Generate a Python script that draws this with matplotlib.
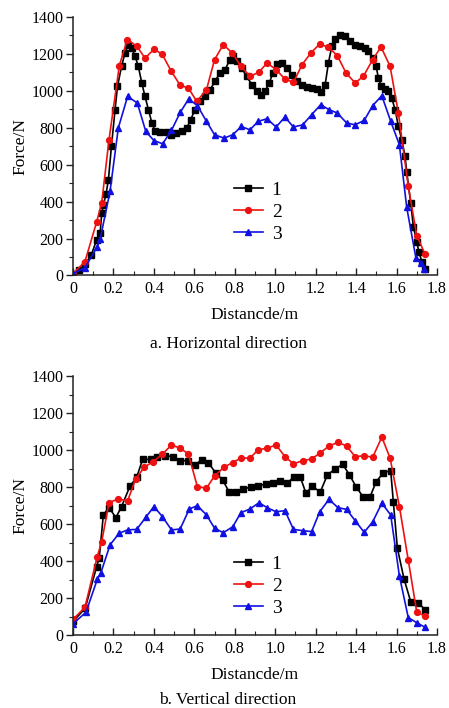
import numpy as np
import matplotlib.pyplot as plt
from matplotlib.ticker import MultipleLocator

plt.rcParams['font.family'] = ['Liberation Serif', 'DejaVu Serif']

# ---- a. horizontal direction ----
h1_x = [0, 0.03, 0.06, 0.09, 0.117, 0.134, 0.142, 0.15, 0.163, 0.175, 0.19, 0.208, 0.22, 0.24,
        0.257, 0.273, 0.29, 0.307, 0.323, 0.34, 0.356, 0.373, 0.39, 0.405, 0.43, 0.463, 0.487,
        0.51, 0.537, 0.562, 0.582, 0.603, 0.628, 0.653, 0.678, 0.702, 0.727, 0.752, 0.776, 0.792,
        0.812, 0.834, 0.858, 0.884, 0.908, 0.928, 0.95, 0.971, 0.988, 1.007, 1.032, 1.057, 1.082,
        1.106, 1.131, 1.156, 1.181, 1.205, 1.225, 1.247, 1.263, 1.28, 1.297, 1.32, 1.345, 1.37,
        1.395, 1.42, 1.444, 1.46, 1.485, 1.499, 1.51, 1.523, 1.543, 1.56, 1.576, 1.593, 1.609,
        1.626, 1.642, 1.65, 1.67, 1.683, 1.70, 1.71, 1.725, 1.741]
h1_y = [10, 30, 60, 110, 193, 229, 337, 380, 440, 518, 699, 898, 1024, 1133,
        1205, 1250, 1233, 1187, 1133, 1043, 970, 898, 826, 784, 775, 775, 762,
        773, 780, 798, 844, 898, 943, 970, 1006, 1052, 1097, 1115, 1169, 1191,
        1160, 1124, 1079, 1034, 997, 976, 997, 1043, 1097, 1146, 1151, 1124, 1088,
        1052, 1034, 1021, 1016, 1010, 992, 1034, 1151, 1242, 1282, 1305, 1296, 1269,
        1250, 1242, 1233, 1215, 1178, 1133, 1070, 1028, 1010, 997, 961, 898, 807,
        735, 645, 563, 392, 265, 183, 129, 75, 34]

h2_x = [0, 0.059, 0.117, 0.142, 0.178, 0.229, 0.269, 0.315, 0.356, 0.40, 0.44, 0.486, 0.53,
        0.57, 0.612, 0.66, 0.70, 0.743, 0.788, 0.83, 0.875, 0.918, 0.96, 1.004, 1.048, 1.09,
        1.133, 1.176, 1.22, 1.263, 1.307, 1.35, 1.395, 1.436, 1.482, 1.523, 1.568, 1.609,
        1.658, 1.70, 1.741]
h2_y = [10, 75, 290, 395, 735, 1137, 1278, 1242, 1178, 1224, 1200, 1106, 1030,
        1016, 943, 1006, 1169, 1250, 1205, 1133, 1079, 1100, 1151, 1115, 1064, 1046,
        1142, 1205, 1254, 1236, 1191, 1097, 1043, 1079, 1169, 1238, 1133, 880,
        482, 216, 115]

h3_x = [0, 0.059, 0.12, 0.134, 0.183, 0.224, 0.27, 0.318, 0.36, 0.40, 0.443, 0.487, 0.53,
        0.572, 0.615, 0.66, 0.70, 0.747, 0.79, 0.832, 0.875, 0.916, 0.96, 1.004, 1.048, 1.09,
        1.136, 1.18, 1.225, 1.266, 1.307, 1.353, 1.395, 1.44, 1.482, 1.527, 1.571, 1.614,
        1.65, 1.696, 1.72, 1.737]
h3_y = [10, 42, 156, 196, 455, 799, 970, 934, 780, 731, 713, 786, 883,
        956, 920, 835, 762, 744, 762, 807, 789, 835, 849, 804, 858, 804,
        816, 871, 925, 898, 880, 826, 816, 840, 920, 974, 835, 708,
        370, 93, 70, 34]

# ---- b. vertical direction ----
v1_x = [0, 0.06, 0.117, 0.13, 0.15, 0.178, 0.212, 0.24, 0.282, 0.315, 0.344, 0.384, 0.414,
        0.455, 0.493, 0.529, 0.567, 0.603, 0.636, 0.669, 0.707, 0.74, 0.773, 0.806, 0.842,
        0.879, 0.917, 0.953, 0.988, 1.024, 1.06, 1.093, 1.123, 1.152, 1.184, 1.222, 1.258,
        1.296, 1.334, 1.367, 1.40, 1.436, 1.469, 1.499, 1.535, 1.571, 1.584, 1.604, 1.637,
        1.67, 1.708, 1.741]
v1_y = [75, 145, 371, 420, 650, 690, 635, 695, 806, 853, 950, 950, 965,
        970, 965, 943, 943, 920, 947, 932, 875, 839, 772, 775, 788,
        802, 806, 817, 824, 833, 821, 857, 857, 767, 806, 772, 866,
        898, 923, 866, 802, 745, 748, 829, 878, 889, 721, 470, 304,
        181, 176, 137]

v2_x = [0, 0.059, 0.12, 0.142, 0.178, 0.224, 0.27, 0.31, 0.353, 0.397, 0.442, 0.487, 0.53,
        0.57, 0.615, 0.66, 0.70, 0.747, 0.79, 0.83, 0.875, 0.916, 0.96, 1.004, 1.048, 1.09,
        1.136, 1.18, 1.22, 1.266, 1.31, 1.353, 1.395, 1.44, 1.482, 1.527, 1.568, 1.614,
        1.658, 1.70, 1.741]
v2_y = [86, 151, 425, 506, 717, 736, 726, 845, 908, 938, 978, 1028, 1010,
        980, 803, 794, 861, 908, 933, 957, 957, 1002, 1010, 1028, 965, 926,
        943, 952, 983, 1022, 1042, 1022, 965, 969, 962, 1070, 957, 695,
        405, 124, 104]

v3_x = [0, 0.064, 0.12, 0.138, 0.183, 0.228, 0.27, 0.315, 0.36, 0.40, 0.442, 0.487, 0.53,
        0.575, 0.615, 0.66, 0.70, 0.743, 0.79, 0.83, 0.875, 0.92, 0.96, 1.004, 1.048, 1.09,
        1.136, 1.18, 1.22, 1.266, 1.31, 1.353, 1.395, 1.44, 1.482, 1.527, 1.571, 1.614,
        1.658, 1.70, 1.741]
v3_y = [63, 124, 302, 338, 488, 551, 569, 572, 637, 695, 641, 569, 574,
        682, 700, 650, 578, 554, 586, 662, 682, 716, 689, 667, 673, 572,
        565, 560, 667, 734, 689, 680, 619, 556, 613, 713, 650, 320,
        95, 68, 43]

labels = ['1', '2', '3']
colors = ['black', '#ee1111', '#1010e0']
markers = ['s', 'o', '^']
msizes = [4.0, 4.2, 4.5]

fig = plt.figure(figsize=(4.49, 7.08), dpi=100)
ax_top = fig.add_axes([0.1626, 0.6109, 0.8107, 0.3651])
ax_bot = fig.add_axes([0.1626, 0.1027, 0.8107, 0.3662])


def draw(ax, series, legend_anchor):
    for (xs, ys), lab, c, m, ms in zip(series, labels, colors, markers, msizes):
        ax.plot(xs, ys, color=c, marker=m, markersize=ms, linewidth=1.2, label=lab)
    ax.set_xlim(0, 1.8)
    ax.set_ylim(0, 1400)
    ax.xaxis.set_major_locator(MultipleLocator(0.2))
    ax.xaxis.set_minor_locator(MultipleLocator(0.1))
    ax.yaxis.set_major_locator(MultipleLocator(200))
    ax.yaxis.set_minor_locator(MultipleLocator(100))
    ax.set_xticklabels([f'{v:.1f}' if v > 0 else '0' for v in ax.get_xticks()])
    ax.spines['top'].set_visible(False)
    ax.spines['right'].set_visible(False)
    for s in ['left', 'bottom']:
        ax.spines[s].set_linewidth(1.1)
        ax.spines[s].set_color('#222222')
    ax.tick_params(axis='x', which='both', direction='in', labelsize=11.5, pad=4, color='#222222')
    ax.tick_params(axis='y', which='both', direction='out', labelsize=11.5, pad=2, color='#222222')
    ax.tick_params(which='major', length=5, width=1)
    ax.tick_params(which='minor', length=3, width=0.8)
    ax.set_xlabel('Distancde/m', fontsize=12.5, labelpad=7)
    ax.set_ylabel('Force/N', fontsize=12.5, labelpad=2)
    ax.legend(loc='center left', bbox_to_anchor=legend_anchor, frameon=False,
              fontsize=14, handlelength=1.5, handletextpad=0.45, labelspacing=0.22,
              borderpad=0)


draw(ax_top, [(h1_x, h1_y), (h2_x, h2_y), (h3_x, h3_y)], (0.415, 0.245))
draw(ax_bot, [(v1_x, v1_y), (v2_x, v2_y), (v3_x, v3_y)], (0.415, 0.19))

fig.text(0.508, 1 - 344 / 708, 'a. Horizontal direction', ha='center', va='center', fontsize=12.5)
fig.text(0.508, 1 - 700 / 708, 'b. Vertical direction', ha='center', va='center', fontsize=12.5)

fig.savefig('out.png', dpi=100)
